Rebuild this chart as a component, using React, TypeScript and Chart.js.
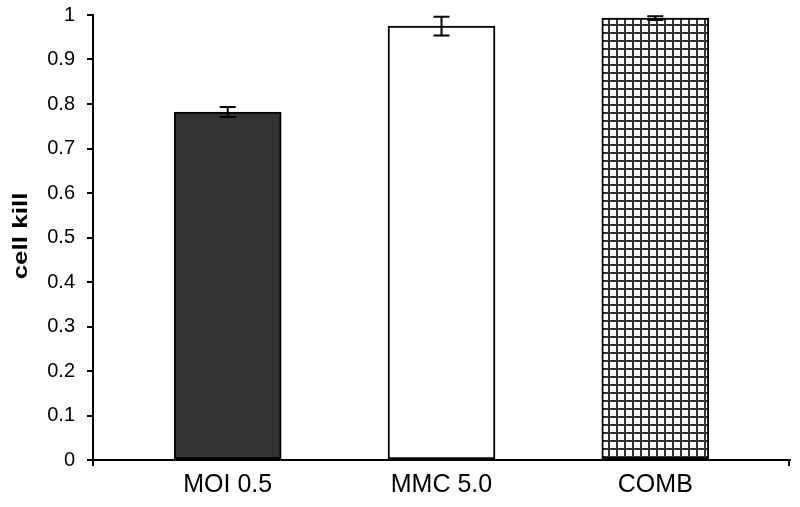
import React, { useEffect, useRef } from "react";
import { Chart, registerables } from "chart.js";

Chart.register(...registerables);

const categories = ["MOI 0.5", "MMC 5.0", "COMB"];
const values = [0.782, 0.975, 0.993];
const errors = [0.011, 0.021, 0.004];
const yTicks = [0, 0.1, 0.2, 0.3, 0.4, 0.5, 0.6, 0.7, 0.8, 0.9, 1];
const yTitle = "cell kill";

function makeHatch(): CanvasPattern | string {
  const c = document.createElement("canvas");
  c.width = 8;
  c.height = 8;
  const g = c.getContext("2d");
  if (!g) return "#fff";
  g.fillStyle = "#ffffff";
  g.fillRect(0, 0, 8, 8);
  g.fillStyle = "#333333";
  g.fillRect(0, 0, 2, 8);
  g.fillRect(0, 0, 8, 2);
  const p = g.createPattern(c, "repeat");
  return p || "#fff";
}

export default function App() {
  const ref = useRef<HTMLCanvasElement | null>(null);

  useEffect(() => {
    document.body.style.margin = "0";
    const canvas = ref.current;
    if (!canvas) return;

    const errorPlugin = {
      id: "errs",
      afterDatasetsDraw(chart: any) {
        const ctx = chart.ctx;
        const xs = chart.scales.x;
        const ys = chart.scales.y;
        ctx.save();
        ctx.strokeStyle = "#000";
        ctx.lineWidth = 2;
        values.forEach((v, i) => {
          const x = xs.getPixelForValue(i);
          const yt = ys.getPixelForValue(v + errors[i]);
          const yb = ys.getPixelForValue(v - errors[i]);
          ctx.beginPath();
          ctx.moveTo(x, yt);
          ctx.lineTo(x, yb);
          ctx.moveTo(x - 8, yt);
          ctx.lineTo(x + 8, yt);
          ctx.moveTo(x - 8, yb);
          ctx.lineTo(x + 8, yb);
          ctx.stroke();
        });
        const a = chart.chartArea;
        ctx.beginPath();
        ctx.moveTo(a.left, a.bottom);
        ctx.lineTo(a.left, a.bottom + 6);
        ctx.moveTo(a.right - 1, a.bottom);
        ctx.lineTo(a.right - 1, a.bottom + 6);
        ctx.stroke();
        ctx.translate(21, 236);
        ctx.rotate(-Math.PI / 2);
        ctx.scale(1.3, 1);
        ctx.fillStyle = "#000";
        ctx.font = "bold 20px 'Liberation Sans', Arial, sans-serif";
        ctx.textAlign = "center";
        ctx.textBaseline = "middle";
        ctx.fillText(yTitle, 0, 0);
        ctx.restore();
      },
    };

    const chart = new Chart(canvas, {
      type: "bar",
      data: {
        datasets: [
          {
            data: values.map((v, i) => ({ x: i, y: v })),
            backgroundColor: ["#333333", "#ffffff", makeHatch()] as any,
            borderColor: "#000",
            borderWidth: 2,
            borderSkipped: false,
            barThickness: 107,
          },
        ],
      },
      options: {
        animation: false,
        responsive: false,
        maintainAspectRatio: false,
        layout: { padding: { top: 15, right: 10, left: 0, bottom: 0 } },
        plugins: { legend: { display: false }, tooltip: { enabled: false } },
        scales: {
          x: {
            type: "linear",
            offset: false,
            min: -0.63,
            max: 2.63,
            grid: { display: false, drawTicks: false, offset: false },
            border: { display: true, color: "#000", width: 2 },
            afterBuildTicks: (s: any) => {
              s.ticks = categories.map((_, i) => ({ value: i }));
            },
            afterFit: (s: any) => {
              s.height = 47;
              s.paddingLeft = 0;
              s.paddingRight = 0;
            },
            ticks: {
              autoSkip: false,
              maxRotation: 0,
              padding: 10,
              color: "#000",
              font: { family: "'Liberation Sans', Arial, sans-serif", size: 25 },
              callback: (v: any) => categories[Math.round(Number(v))] ?? "",
            },
          },
          y: {
            min: 0,
            max: 1,
            afterBuildTicks: (s: any) => {
              s.ticks = yTicks.map((v) => ({ value: v }));
            },
            afterFit: (s: any) => {
              s.width = 93;
              s.paddingTop = 0;
              s.paddingBottom = 0;
            },
            grid: {
              drawOnChartArea: false,
              drawTicks: true,
              tickLength: 6,
              color: "#000",
              lineWidth: 2,
            },
            border: { display: true, color: "#000", width: 2 },
            ticks: {
              padding: 12,
              color: "#000",
              font: { family: "'Liberation Sans', Arial, sans-serif", size: 20 },
              callback: (v: any) => String(Math.round(Number(v) * 10) / 10),
            },
          },
        },
      },
      plugins: [errorPlugin],
    } as any);

    return () => chart.destroy();
  }, []);

  return <canvas ref={ref} width={800} height={507} style={{ display: "block" }} />;
}
